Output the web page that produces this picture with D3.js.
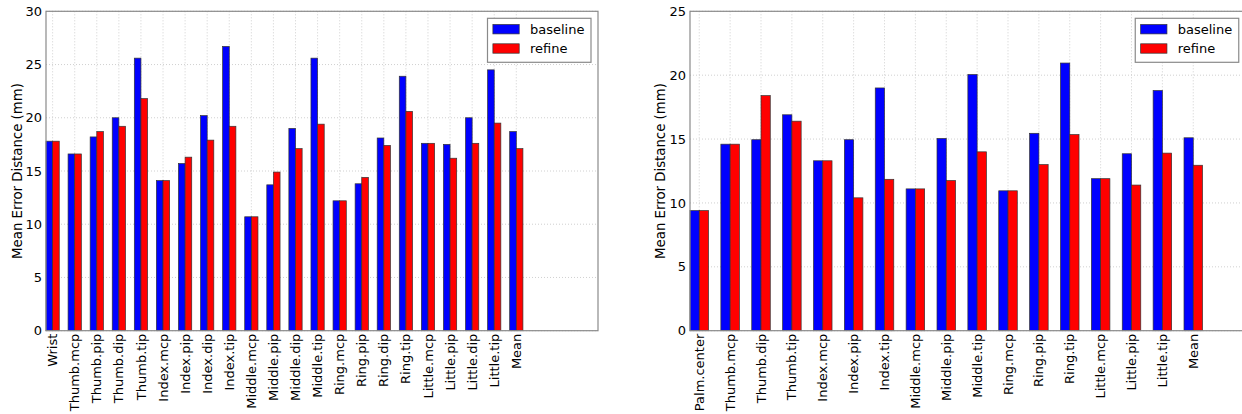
<!DOCTYPE html>
<html>
<head>
<meta charset="utf-8">
<script src="https://cdn.jsdelivr.net/npm/d3@7"></script>
<style>
  body { margin: 0; background: #fff; }
  svg text { font-family: "DejaVu Sans", "Liberation Sans", sans-serif; }
</style>
</head>
<body>
<div id="chart"></div>
<script>
// left panel: hand joints
const jointsLeft = ["Wrist", "Thumb.mcp", "Thumb.pip", "Thumb.dip", "Thumb.tip",
  "Index.mcp", "Index.pip", "Index.dip", "Index.tip",
  "Middle.mcp", "Middle.pip", "Middle.dip", "Middle.tip",
  "Ring.mcp", "Ring.pip", "Ring.dip", "Ring.tip",
  "Little.mcp", "Little.pip", "Little.dip", "Little.tip", "Mean"];
const baselineLeft = [17.8, 16.6, 18.2, 20.0, 25.6, 14.1, 15.7, 20.2, 26.7,
  10.7, 13.7, 19.0, 25.6, 12.2, 13.8, 18.1, 23.9, 17.6, 17.5, 20.0, 24.5, 18.7];
const refineLeft = [17.8, 16.6, 18.7, 19.2, 21.8, 14.1, 16.3, 17.9, 19.2,
  10.7, 14.9, 17.1, 19.4, 12.2, 14.4, 17.4, 20.6, 17.6, 16.2, 17.6, 19.5, 17.1];
const yTicksLeft = [0, 5, 10, 15, 20, 25, 30];

// right panel
const jointsRight = ["Palm.center", "Thumb.mcp", "Thumb.dip", "Thumb.tip",
  "Index.mcp", "Index.pip", "Index.tip", "Middle.mcp", "Middle.pip", "Middle.tip",
  "Ring.mcp", "Ring.pip", "Ring.tip", "Little.mcp", "Little.pip", "Little.tip", "Mean"];
const baselineRight = [9.4, 14.6, 14.95, 16.9, 13.3, 14.95, 19.0, 11.1, 15.05, 20.05,
  10.95, 15.45, 20.95, 11.9, 13.85, 18.8, 15.1];
const refineRight = [9.4, 14.6, 18.4, 16.4, 13.3, 10.4, 11.85, 11.1, 11.75, 14.0,
  10.95, 13.0, 15.35, 11.9, 11.4, 13.9, 12.95];
const yTicksRight = [0, 5, 10, 15, 20, 25];

const seriesNames = ["baseline", "refine"];
const seriesColors = ["#0000ff", "#ff0000"];

const W = 1242, H = 414;
const barW = 0.3;
const fontSize = 13;

const svg = d3.select("#chart").append("svg")
  .attr("width", W)
  .attr("height", H)
  .style("display", "block");

function drawPanel(opts) {
  const x = d3.scaleLinear().domain([0, opts.xMax]).range([opts.left, opts.right]);
  const y = d3.scaleLinear().domain([0, opts.yMax]).range([opts.bottom, opts.top]);
  const g = svg.append("g");

  // grid
  g.append("g").selectAll("line")
    .data(opts.labels)
    .join("line")
    .attr("x1", (d, i) => x(i + barW))
    .attr("x2", (d, i) => x(i + barW))
    .attr("y1", opts.top)
    .attr("y2", opts.bottom)
    .style("stroke", "#c4c4c4")
    .style("stroke-width", 0.8)
    .style("stroke-dasharray", "1,2");
  g.append("g").selectAll("line")
    .data(opts.yTicks)
    .join("line")
    .attr("x1", opts.left)
    .attr("x2", opts.right)
    .attr("y1", d => y(d))
    .attr("y2", d => y(d))
    .style("stroke", "#c4c4c4")
    .style("stroke-width", 0.8)
    .style("stroke-dasharray", "1,2");

  // bars
  [opts.baseline, opts.refine].forEach(function(vals, s) {
    g.append("g").selectAll("rect")
      .data(vals)
      .join("rect")
      .attr("x", (d, i) => x(i + s * barW))
      .attr("width", x(barW) - x(0))
      .attr("y", d => y(d))
      .attr("height", d => y(0) - y(d))
      .style("fill", seriesColors[s])
      .style("stroke", "#333")
      .style("stroke-width", 0.7);
  });

  // frame
  g.append("rect")
    .attr("x", opts.left)
    .attr("y", opts.top)
    .attr("width", opts.right - opts.left)
    .attr("height", opts.bottom - opts.top)
    .style("fill", "none")
    .style("stroke", "#8a8a8a")
    .style("stroke-width", 1.2);

  // y axis
  const yAxis = d3.axisLeft(y)
    .tickValues(opts.yTicks)
    .tickSize(0)
    .tickPadding(4);
  const ya = g.append("g")
    .attr("transform", `translate(${opts.left},0)`)
    .call(yAxis)
    .attr("font-family", null)
    .attr("font-size", null);
  ya.select(".domain").remove();
  ya.selectAll("text")
    .style("font-size", fontSize + "px")
    .style("fill", "#000");

  // x tick labels
  g.append("g").selectAll("text")
    .data(opts.labels)
    .join("text")
    .attr("transform", (d, i) => `translate(${x(i + barW)},${opts.bottom + 3}) rotate(-90)`)
    .attr("text-anchor", "end")
    .attr("dy", "0.35em")
    .style("font-size", fontSize + "px")
    .text(d => d);

  // y label
  g.append("text")
    .attr("transform", `translate(${opts.labelX},${(opts.top + opts.bottom) / 2}) rotate(-90)`)
    .attr("text-anchor", "middle")
    .attr("dy", "0.35em")
    .style("font-size", "13.3px")
    .text("Mean Error Distance (mm)");

  // legend
  const lg = g.append("g")
    .attr("transform", `translate(${opts.right - 110.5},18.3)`);
  lg.append("rect")
    .attr("width", 103.5)
    .attr("height", 44)
    .style("fill", "#fff")
    .style("stroke", "#8a8a8a")
    .style("stroke-width", 1.2);
  seriesNames.forEach(function(name, s) {
    lg.append("rect")
      .attr("x", 5.4)
      .attr("y", 6.2 + s * 19.3)
      .attr("width", 26.3)
      .attr("height", 9.4)
      .style("fill", seriesColors[s])
      .style("stroke", "#333")
      .style("stroke-width", 0.7);
    lg.append("text")
      .attr("x", 42.5)
      .attr("y", 10.9 + s * 19.3)
      .attr("dy", "0.35em")
      .style("font-size", fontSize + "px")
      .text(name);
  });
}

drawPanel({
  labels: jointsLeft, baseline: baselineLeft, refine: refineLeft,
  yTicks: yTicksLeft, yMax: 30, xMax: 25,
  left: 46, right: 598, top: 11.3, bottom: 330.7, labelX: 17
});

drawPanel({
  labels: jointsRight, baseline: baselineRight, refine: refineRight,
  yTicks: yTicksRight, yMax: 25, xMax: 18,
  left: 690, right: 1245.75, top: 11.3, bottom: 330.7, labelX: 660
});
</script>
</body>
</html>
